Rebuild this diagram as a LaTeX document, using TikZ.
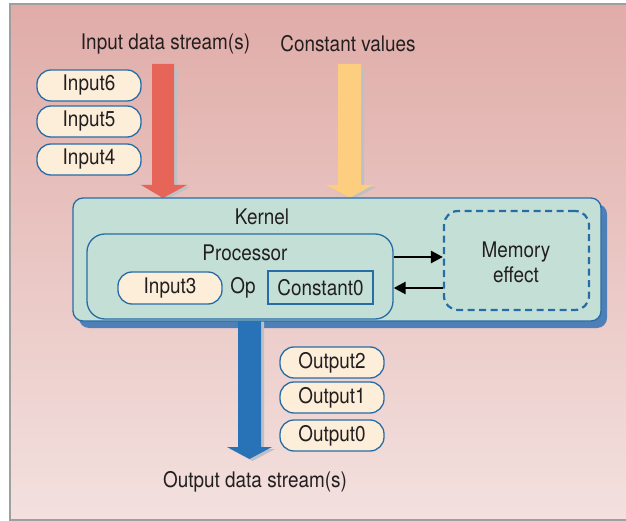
\documentclass[tikz,border=0pt]{standalone}
\usepackage{fontspec}
\setmainfont[FakeStretch=0.88]{TeX Gyre Heros}
\usetikzlibrary{arrows.meta,calc}
\definecolor{bgtop}{RGB}{224,172,168}
\definecolor{bgbot}{RGB}{243,225,223}
\definecolor{edge}{RGB}{40,108,166}
\definecolor{pillfill}{RGB}{253,238,218}
\definecolor{kfill}{RGB}{196,224,214}
\definecolor{kshadow}{RGB}{78,127,182}
\definecolor{redarr}{RGB}{230,101,88}
\definecolor{yelarr}{RGB}{253,206,127}
\definecolor{bluearr}{RGB}{40,115,184}
\definecolor{txt}{RGB}{35,31,32}
\definecolor{ashadow}{RGB}{190,192,200}
\begin{document}
\begin{tikzpicture}[x=1pt,y=-1pt,
  every node/.style={font=\fontsize{21.5}{24}\selectfont, text=txt},
  pill/.style={draw=edge, fill=pillfill, line width=1.3pt, rounded corners=14pt,
    minimum width=104pt, minimum height=31pt, inner sep=0pt},
  kbox/.style={draw=edge, fill=kfill, line width=1.3pt, rounded corners=10pt,
    minimum width=528pt, minimum height=123pt, inner sep=0pt},
  procbox/.style={draw=edge, fill=kfill, line width=1.3pt, rounded corners=18pt,
    minimum width=306pt, minimum height=85pt, inner sep=0pt},
  constbox/.style={draw=edge, fill=kfill, line width=1.3pt,
    minimum width=105pt, minimum height=33pt, inner sep=0pt},
  membox/.style={draw=edge, fill=kfill, line width=2.2pt, rounded corners=14pt,
    dash pattern=on 7pt off 4.5pt, minimum width=145pt, minimum height=99pt, inner sep=0pt},
  label/.style={inner sep=0pt},
  flow/.style={line width=2.6pt, draw=black, -{Triangle[length=12pt,width=12pt]}},
]
\useasboundingbox (0,0) rectangle (626,521);
% background
\shade[top color=bgtop, bottom color=bgbot] (10,4) rectangle (626,520);
\draw[gray!75, line width=1.2pt] (626,4) -- (10,4) -- (10,520) -- (626,520);

% titles
\node[label] (tin) at (165.5,44) {Input data stream(s)};
\node[label] (tconst) at (348,44) {Constant values};
\node[label] (tout) at (255,482) {Output data stream(s)};

% input pills
\node[pill] (in6) at (89,85.5) {Input6};
\node[pill] (in5) at (89,121.5) {Input5};
\node[pill] (in4) at (89,159.5) {Input4};

% input arrows (shadows first)
\fill[ashadow] (155,68) -- (177,68) -- (177,187) -- (190,187) -- (166,200) -- (144,187) -- (155,187) -- cycle;
\fill[redarr] (152,64) -- (174,64) -- (174,185) -- (187,185) -- (163,198) -- (141,185) -- (152,185) -- cycle;
\fill[ashadow] (341,68) -- (364,68) -- (364,187) -- (376,187) -- (352,200) -- (329,187) -- (341,187) -- cycle;
\fill[yelarr] (338,64) -- (361,64) -- (361,185) -- (373,185) -- (349.5,198) -- (326,185) -- (338,185) -- cycle;

% kernel shadow
\fill[kshadow, rounded corners=10pt] (79,204) rectangle (607,328);
% output arrow
\fill[ashadow] (241,318) -- (264,318) -- (264,449) -- (275,449) -- (252.5,461) -- (230,449) -- (241,449) -- cycle;
\fill[bluearr] (238,315) -- (261,315) -- (261,447) -- (272,447) -- (249.5,459) -- (227,447) -- (238,447) -- cycle;

% kernel
\node[kbox] (kernel) at (337,259.5) {};
\node[label] (klabel) at (262,217) {Kernel};
\node[procbox] (proc) at (240,276.5) {};
\node[label] (plabel) at (245,253) {Processor};
\node[pill, minimum height=32pt] (in3) at (170,288) {Input3};
\node[label] (op) at (243,288) {Op};
\node[constbox] (c0) at (320.5,287.5) {Constant0};
\node[membox] (mem) at (516.5,260.5) {};
\node[label, align=center, font=\fontsize{21.5}{25}\selectfont] (mlabel) at (516,262) {Memory\\effect};

% memory arrows
\coordinate (a1) at (proc.east |- 0,257);
\coordinate (a2) at (mem.west |- 0,288);
\draw[flow] (a1) -- (a1 -| mem.west);
\draw[flow] (a2) -- (a2 -| proc.east);

% output pills
\node[pill] (out2) at (332,362.5) {Output2};
\node[pill] (out1) at (332,397.5) {Output1};
\node[pill] (out0) at (332,435.5) {Output0};
\end{tikzpicture}
\end{document}
